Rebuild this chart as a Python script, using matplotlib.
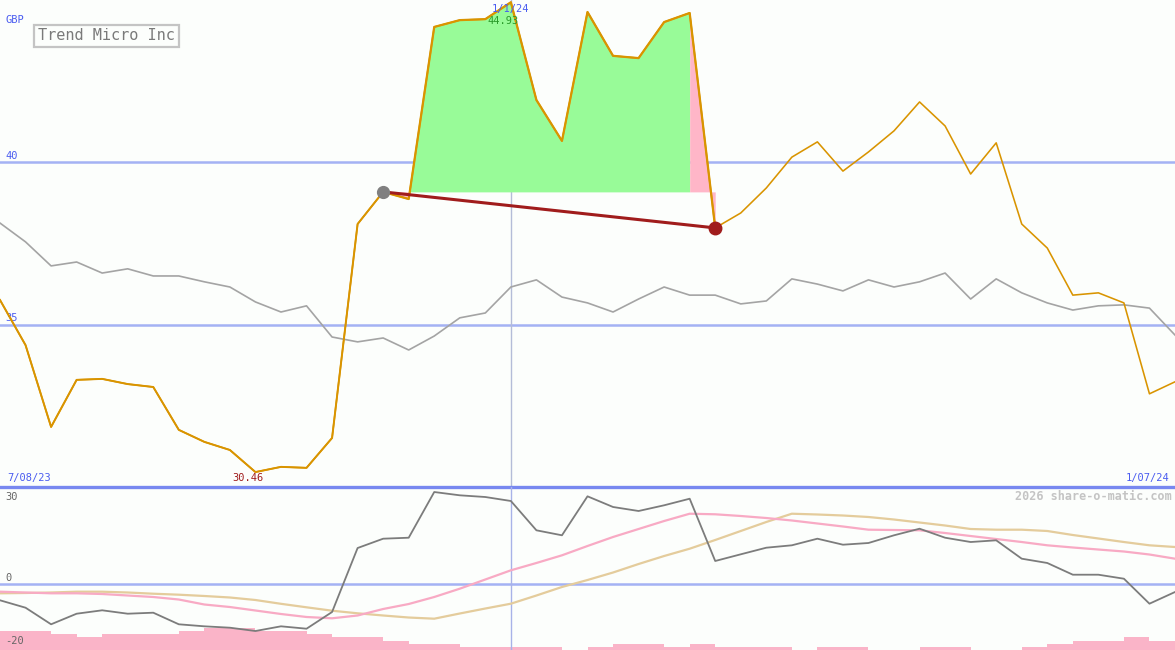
import numpy as np
import matplotlib.pyplot as plt

# weekly closes, Trend Micro Inc, GBP (7/08/23 .. 1/07/24)
price = [35.76, 34.37, 31.85, 33.30, 33.33, 33.17, 33.08, 31.76, 31.39, 31.14,
         30.46, 30.62, 30.59, 31.51, 38.10, 39.09, 38.87, 44.17, 44.38, 44.41,
         44.93, 41.92, 40.66, 44.63, 43.28, 43.21, 44.32, 44.60, 37.98, 38.44,
         39.21, 40.16, 40.63, 39.73, 40.32, 40.97, 41.86, 41.12, 39.64, 40.60,
         38.10, 37.36, 35.91, 35.98, 35.67, 32.87, 33.24]

# comparison index, rebased to the price scale
index_line = [38.13, 37.55, 36.81, 36.93, 36.59, 36.72, 36.50, 36.50, 36.32, 36.16,
              35.70, 35.39, 35.58, 34.62, 34.47, 34.59, 34.22, 34.65, 35.21, 35.36,
              36.16, 36.38, 35.85, 35.67, 35.39, 35.79, 36.16, 35.91, 35.91, 35.64,
              35.73, 36.41, 36.25, 36.04, 36.38, 36.16, 36.32, 36.59, 35.79, 36.41,
              35.98, 35.67, 35.45, 35.58, 35.61, 35.51, 34.68]

# lower panel oscillators
momentum = [-5.75, -8.32, -14.07, -10.40, -9.22, -10.40, -10.05, -14.07, -14.77, -15.25,
            -16.40, -14.77, -15.60, -9.81, 12.37, 15.60, 15.94, 31.78, 30.64, 30.05,
            28.67, 18.51, 16.78, 30.29, 26.59, 25.20, 27.18, 29.46, 7.87, 10.19,
            12.48, 13.31, 15.60, 13.52, 14.11, 16.78, 19.06, 15.94, 14.45, 15.04,
            8.67, 7.18, 3.12, 3.12, 1.73, -6.93, -2.88]
fast_avg = [-2.77, -3.05, -3.33, -3.33, -3.57, -4.09, -4.61, -5.48, -7.21, -8.08,
            -9.29, -10.50, -11.54, -11.99, -11.02, -8.77, -7.04, -4.61, -1.73, 1.46,
            4.64, 7.18, 9.84, 13.07, 16.19, 18.96, 21.73, 24.26, 24.06, 23.47,
            22.77, 21.91, 20.87, 19.83, 18.72, 18.61, 18.51, 17.57, 16.53, 15.49,
            14.45, 13.31, 12.55, 11.85, 11.16, 10.12, 8.67]
slow_avg = [-3.33, -3.22, -3.05, -2.77, -2.77, -3.05, -3.47, -3.81, -4.26, -4.78,
            -5.65, -6.97, -8.18, -9.36, -10.26, -11.02, -11.72, -12.13, -10.33, -8.60,
            -6.93, -4.09, -1.14, 1.28, 3.88, 6.83, 9.60, 12.13, 15.15, 18.27,
            21.39, 24.26, 23.99, 23.64, 23.12, 22.25, 21.21, 20.17, 18.96, 18.72,
            18.72, 18.27, 16.88, 15.67, 14.45, 13.31, 12.72]
hist_level = [6, 6, 5, 4, 5, 5, 5, 6, 7, 7, 6, 6, 5, 4, 4, 3, 2, 2, 1, 1,
              1, 1, 0, 1, 2, 2, 1, 2, 1, 1, 1, 0, 1, 1, 0, 0, 1, 1, 0, 0,
              1, 2, 3, 3, 4, 3]

buy_i, sell_i, mark_i = 15, 28, 20
first_date, last_date, mark_date = "7/08/23", "1/07/24", "1/1/24"

x = np.arange(len(price))
p = np.array(price)
mono = "DejaVu Sans Mono"
bg = "#fcfefc"
blue_txt = "#4a5cf0"

fig = plt.figure(figsize=(11.75, 6.5), dpi=100, facecolor=bg)
ax = fig.add_axes([0, 163 / 650, 1, 487 / 650], facecolor=bg)
axl = fig.add_axes([0, 0, 1, 163 / 650], facecolor=bg)

for a in (ax, axl):
    a.set_xlim(0, len(price) - 1)
    a.axis("off")

# ---- price panel
ax.set_ylim(30, 45)
for lvl in (40, 35):
    ax.axhline(lvl, color="#a4b2f4", lw=1.8, zorder=1)
    ax.text(0.2, lvl + 0.05, str(lvl), color=blue_txt, fontsize=7.5, family=mono,
            va="bottom", ha="left")
ax.axvline(mark_i, color="#b4bcd8", lw=1, zorder=1)

base = p[buy_i]
ax.fill_between(x[buy_i + 1:sell_i], base, p[buy_i + 1:sell_i],
                where=p[buy_i + 1:sell_i] >= base, interpolate=True,
                color="#98fb98", lw=0, zorder=2)
ax.fill_between(x[buy_i:buy_i + 2], base, p[buy_i:buy_i + 2], color="#ffb6c8", lw=0, zorder=2)
ax.fill_between(x[sell_i - 1:sell_i + 1], base, p[sell_i - 1:sell_i + 1],
                color="#ffb6c8", lw=0, zorder=2)

ax.plot(x, index_line, color="#a4a4a4", lw=1.2, zorder=3)
ax.plot(x, p, color="#d99400", lw=1.15, zorder=4)
ax.plot(x[:buy_i + 1], p[:buy_i + 1], color="#d99400", lw=1.4, zorder=4)
ax.plot(x[buy_i:sell_i + 1], p[buy_i:sell_i + 1], color="#d99400", lw=1.6, zorder=4)
ax.plot([buy_i, sell_i], [p[buy_i], p[sell_i]], color="#a01c1c", lw=2.2, zorder=5)
ax.plot(buy_i, p[buy_i], "o", color="#808080", ms=8.5, zorder=6)
ax.plot(sell_i, p[sell_i], "o", color="#a01c1c", ms=9, zorder=6)

hi, lo = int(np.argmax(p)), int(np.argmin(p))
ax.text(hi - 0.3, 44.35, f"{p[hi]:.2f}", color="#2a9a2a", fontsize=7.5, family=mono,
        ha="center", va="center", zorder=7)
ax.text(mark_i, 44.72, mark_date, color=blue_txt, fontsize=7.5, family=mono,
        ha="center", va="center", zorder=7)
ax.text(lo - 0.3, 30.27, f"{p[lo]:.2f}", color="#a01c1c", fontsize=7.5, family=mono,
        ha="center", va="center")
ax.text(0.27, 30.27, first_date, color=blue_txt, fontsize=7.5, family=mono,
        ha="left", va="center")
ax.text(len(price) - 1.2, 30.27, last_date, color=blue_txt, fontsize=7.5, family=mono,
        ha="right", va="center")
ax.text(5 / 1175, 1 - 20 / 487, "GBP", transform=ax.transAxes, color=blue_txt,
        fontsize=7.5, family=mono, va="center")
ax.text(38 / 1175, 1 - 36 / 487, "Trend Micro Inc", transform=ax.transAxes,
        color="#7a7a7a", fontsize=11, family=mono, va="center", ha="left",
        bbox=dict(boxstyle="square,pad=0.25", fc=bg, ec="#c4c4c4", lw=1.6))
ax.axhline(30, color="#7888f0", lw=2.4, zorder=8, clip_on=False)

# ---- oscillator panel
lo_y, hi_y = -22.98, 33.52
axl.set_ylim(lo_y, hi_y)
bar_unit = 1.09
axl.bar(x[:-1], np.array(hist_level) * bar_unit, width=1.0, align="edge",
        bottom=lo_y, color="#fab4c8", lw=0, zorder=1)
axl.axhline(0, color="#a4b2f4", lw=1.8, zorder=2)
axl.axvline(mark_i, color="#a8b2e8", lw=1, zorder=2)
axl.plot(x, slow_avg, color="#e4cc9c", lw=1.6, zorder=3)
axl.plot(x, fast_avg, color="#f8aac4", lw=1.6, zorder=3)
axl.plot(x, momentum, color="#7c7c7c", lw=1.3, zorder=4)

for v, va in ((30, "center"), (0, "bottom"), (-20, "center")):
    axl.text(0.2, v + (0.3 if va == "bottom" else 0), str(v), color="#666666",
             fontsize=7.5, family=mono, ha="left", va=va, zorder=5)
axl.text(1 - 3 / 1175, 1 - 9 / 163, "2026 share-o-matic.com", transform=axl.transAxes,
         color="#c4c4c4", fontsize=8.5, family=mono, weight="bold",
         ha="right", va="center")

fig.savefig("out.png", dpi=100, facecolor=bg)
